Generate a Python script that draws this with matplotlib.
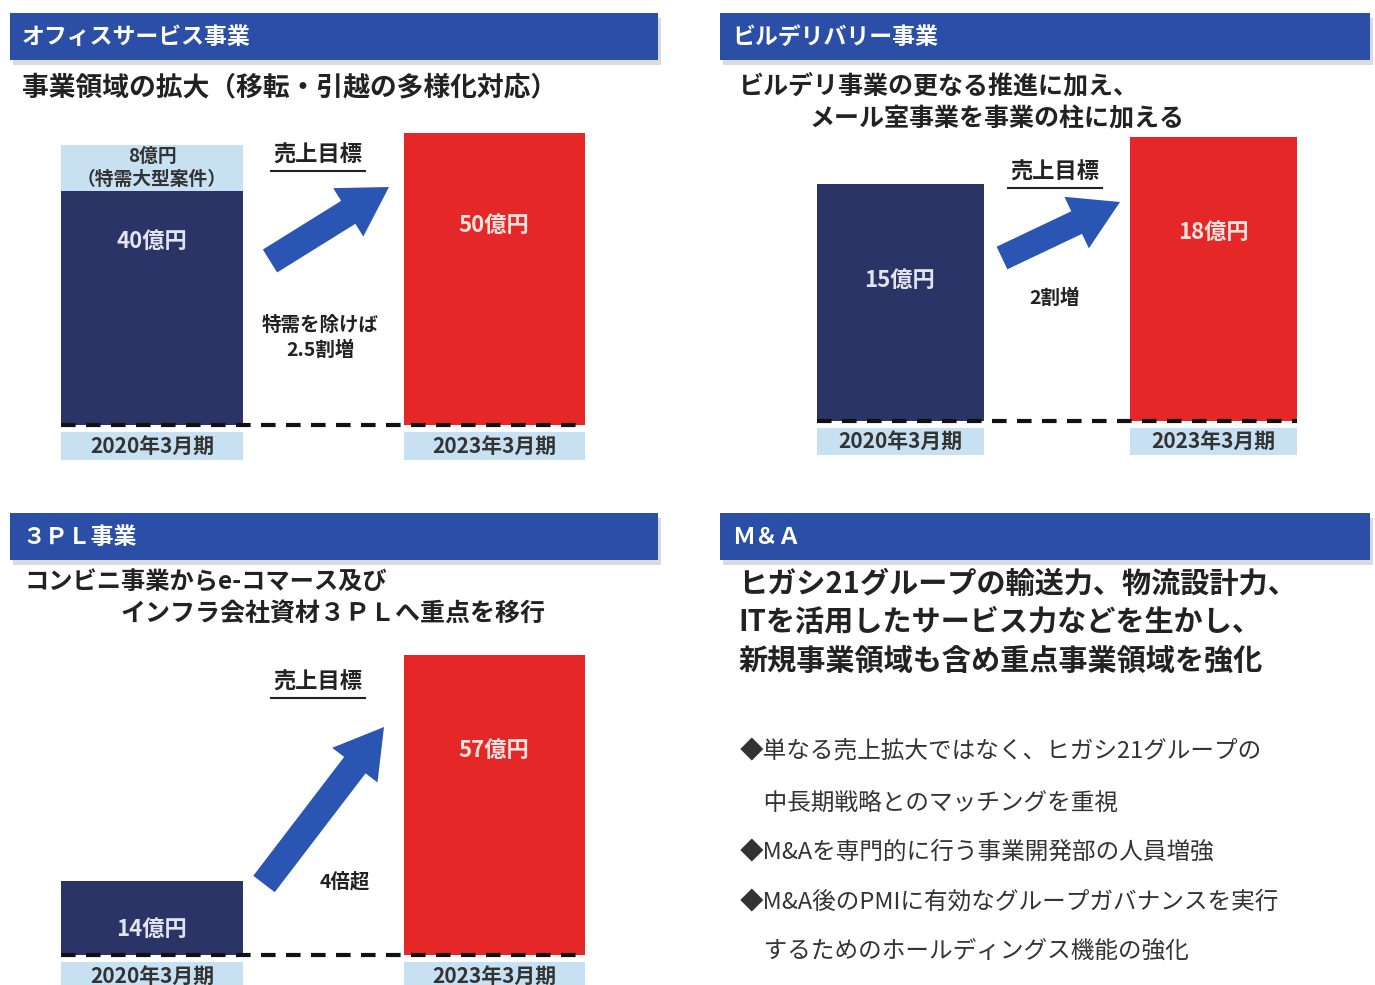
import matplotlib
matplotlib.use("Agg")
import matplotlib.pyplot as plt
from matplotlib.patches import Rectangle, FancyArrow

plt.rcParams['font.family'] = ['Noto Sans CJK JP', 'DejaVu Sans']

W, H = 1375, 985

# ---- data ----
periods = ["2020年3月期", "2023年3月期"]

office_base = [40, 50]
office_special = 8
office_labels = ["40億円", "50億円"]

bd_values = [15, 18]
bd_labels = ["15億円", "18億円"]

tpl_values = [14, 57]
tpl_labels = ["14億円", "57億円"]

headers = ["オフィスサービス事業", "ビルデリバリー事業", "３ＰＬ事業", "Ｍ＆Ａ"]

ma_lead = ["ヒガシ21グループの輸送力、物流設計力、",
           "ITを活用したサービス力などを生かし、",
           "新規事業領域も含め重点事業領域を強化"]
ma_bullets = ["◆単なる売上拡大ではなく、ヒガシ21グループの",
              "　中長期戦略とのマッチングを重視",
              "◆M&Aを専門的に行う事業開発部の人員増強",
              "◆M&A後のPMIに有効なグループガバナンスを実行",
              "　するためのホールディングス機能の強化"]

HEAD_BLUE = "#2B4FA7"
NAVY = "#2B3467"
RED = "#E52727"
LIGHT = "#C7E0F2"
ARROW = "#2A55B2"
DARK = "#222222"

fig = plt.figure(figsize=(W / 100, H / 100), dpi=100)
fig.patch.set_facecolor("white")

# background overlay in pixel coords
bg = fig.add_axes([0, 0, 1, 1])
bg.set_xlim(0, W)
bg.set_ylim(H, 0)
bg.axis("off")


def header(x0, x1, y0, y1, text):
    bg.add_patch(Rectangle((x0 + 3, y0 + 5), x1 - x0, y1 - y0, color="#9a9a9a", alpha=0.35, lw=0))
    bg.add_patch(Rectangle((x0, y0), x1 - x0, y1 - y0, color=HEAD_BLUE, lw=0))
    bg.text(x0 + 12, (y0 + y1) / 2 + 1, text, color="white", fontsize=16.5, fontweight="bold",
            va="center", ha="left")


header(10, 658, 13, 60, headers[0])
header(720, 1370, 13, 60, headers[1])
header(10, 658, 513, 560, headers[2])
header(720, 1370, 513, 560, headers[3])

# subtitles
bg.text(22, 87, "事業領域の拡大（移転・引越の多様化対応）", fontsize=19.3, fontweight="bold",
        color=DARK, va="center")
bg.text(738, 86, "ビルデリ事業の更なる推進に加え、", fontsize=18, fontweight="bold",
        color=DARK, va="center")
bg.text(810, 119, "メール室事業を事業の柱に加える", fontsize=18, fontweight="bold",
        color=DARK, va="center")
bg.text(25, 583, "コンビニ事業からe-コマース及び", fontsize=17.5, fontweight="bold",
        color=DARK, va="center")
bg.text(120, 615, "インフラ会社資材３ＰＬへ重点を移行", fontsize=18, fontweight="bold",
        color=DARK, va="center")

for i, line in enumerate(ma_lead):
    bg.text(738, 584 + i * 38.5, line, fontsize=21, fontweight="bold", color=DARK, va="center")

bullet_y = [752, 803, 853, 903, 952]
for yy, line in zip(bullet_y, ma_bullets):
    bg.text(740, yy, line, fontsize=17, color="#333333", va="center")


# arrows: tail centre -> tip
def arrow(tx, ty, hx, hy, shaft=27):
    bg.add_patch(FancyArrow(tx, ty, hx - tx, hy - ty, width=shaft, head_width=57,
                            head_length=48, length_includes_head=True, color=ARROW, lw=0))


arrow(270, 261, 389, 187)
arrow(1002, 258, 1120, 202, shaft=25)
arrow(264, 884, 384, 727, shaft=27)


def target_label(x, y):
    bg.text(x, y, "売上目標", fontsize=16, fontweight="bold", color=DARK, ha="center", va="center")
    bg.plot([x - 47, x + 47], [y + 16, y + 16], color=DARK, lw=1.5)


target_label(318, 155)
target_label(1055, 172)
target_label(318, 682)

bg.text(320, 338, "特需を除けば\n2.5割増", fontsize=14, fontweight="bold", color=DARK,
        ha="center", va="center", linespacing=1.35)
bg.text(1055, 298, "2割増", fontsize=14, fontweight="bold", color=DARK, ha="center", va="center")
bg.text(345, 882, "4倍超", fontsize=14, fontweight="bold", color=DARK, ha="center", va="center")


def bar_axes(c0, c1, base, top_px, vmax, bar_px, x0, x1, y_top, y_bot):
    ax = fig.add_axes([x0 / W, 1 - y_bot / H, (x1 - x0) / W, (y_bot - y_top) / H])
    d = c1 - c0
    ax.set_xlim((x0 - c0) / d, (x1 - c0) / d)
    s = (base - top_px) / vmax
    ax.set_ylim((base - y_bot) / s, (base - y_top) / s)
    ax.axis("off")
    ax.patch.set_alpha(0)
    return ax, s, bar_px / d


def finish(ax, s, w, gap, box_h):
    # dashed baseline
    ax.plot([-w / 2, 1 + w / 2], [0, 0], color="#111111", lw=3, ls=(0, (3.5, 2.5)), zorder=5,
            solid_capstyle="butt")
    ax.bar([0, 1], [-box_h / s] * 2, bottom=-gap / s, width=w, color=LIGHT, lw=0)
    for i, p in enumerate(periods):
        ax.text(i, -(gap + box_h / 2) / s, p, ha="center", va="center", fontsize=15,
                fontweight="bold", color="#333333")


# panel 1 - office services
ax1, s1, w1 = bar_axes(152, 494, 425, 133, 50, 181, 20, 640, 100, 470)
ax1.bar(0, office_base[0], width=w1, color=NAVY, lw=0)
ax1.bar(0, office_special, bottom=office_base[0], width=w1, color=LIGHT, lw=0)
ax1.bar(1, office_base[1], width=w1, color=RED, lw=0)
ax1.text(0, office_base[0] + office_special / 2, "8億円\n（特需大型案件）", ha="center", va="center",
         fontsize=13.5, fontweight="bold", color="#333333", linespacing=1.3)
ax1.text(0, office_base[0] - 50 / s1, office_labels[0], ha="center", va="center", fontsize=16,
         fontweight="bold", color="#E2E4F0")
ax1.text(1, office_base[1] - 92 / s1, office_labels[1], ha="center", va="center", fontsize=16,
         fontweight="bold", color="#FDE4E0")
finish(ax1, s1, w1, 7, 28)

# panel 2 - building delivery
ax2, s2, w2 = bar_axes(900, 1213, 421, 137, 18, 167, 760, 1360, 100, 470)
ax2.bar([0, 1], bd_values, width=w2, color=[NAVY, RED], lw=0)
ax2.text(0, bd_values[0] - 96 / s2, bd_labels[0], ha="center", va="center", fontsize=16,
         fontweight="bold", color="#E2E4F0")
ax2.text(1, bd_values[1] - 95 / s2, bd_labels[1], ha="center", va="center", fontsize=16,
         fontweight="bold", color="#FDE4E0")
finish(ax2, s2, w2, 7, 27)

# panel 3 - 3PL
ax3, s3, w3 = bar_axes(152, 494, 955, 655, 57, 181, 20, 640, 630, 1000)
ax3.bar([0, 1], tpl_values, width=w3, color=[NAVY, RED], lw=0)
ax3.text(0, tpl_values[0] * 0.35, tpl_labels[0], ha="center", va="center", fontsize=16,
         fontweight="bold", color="#E2E4F0")
ax3.text(1, tpl_values[1] - 95 / s3, tpl_labels[1], ha="center", va="center", fontsize=16,
         fontweight="bold", color="#FDE4E0")
finish(ax3, s3, w3, 7, 28)

fig.savefig("out.png", dpi=100, facecolor="white")
